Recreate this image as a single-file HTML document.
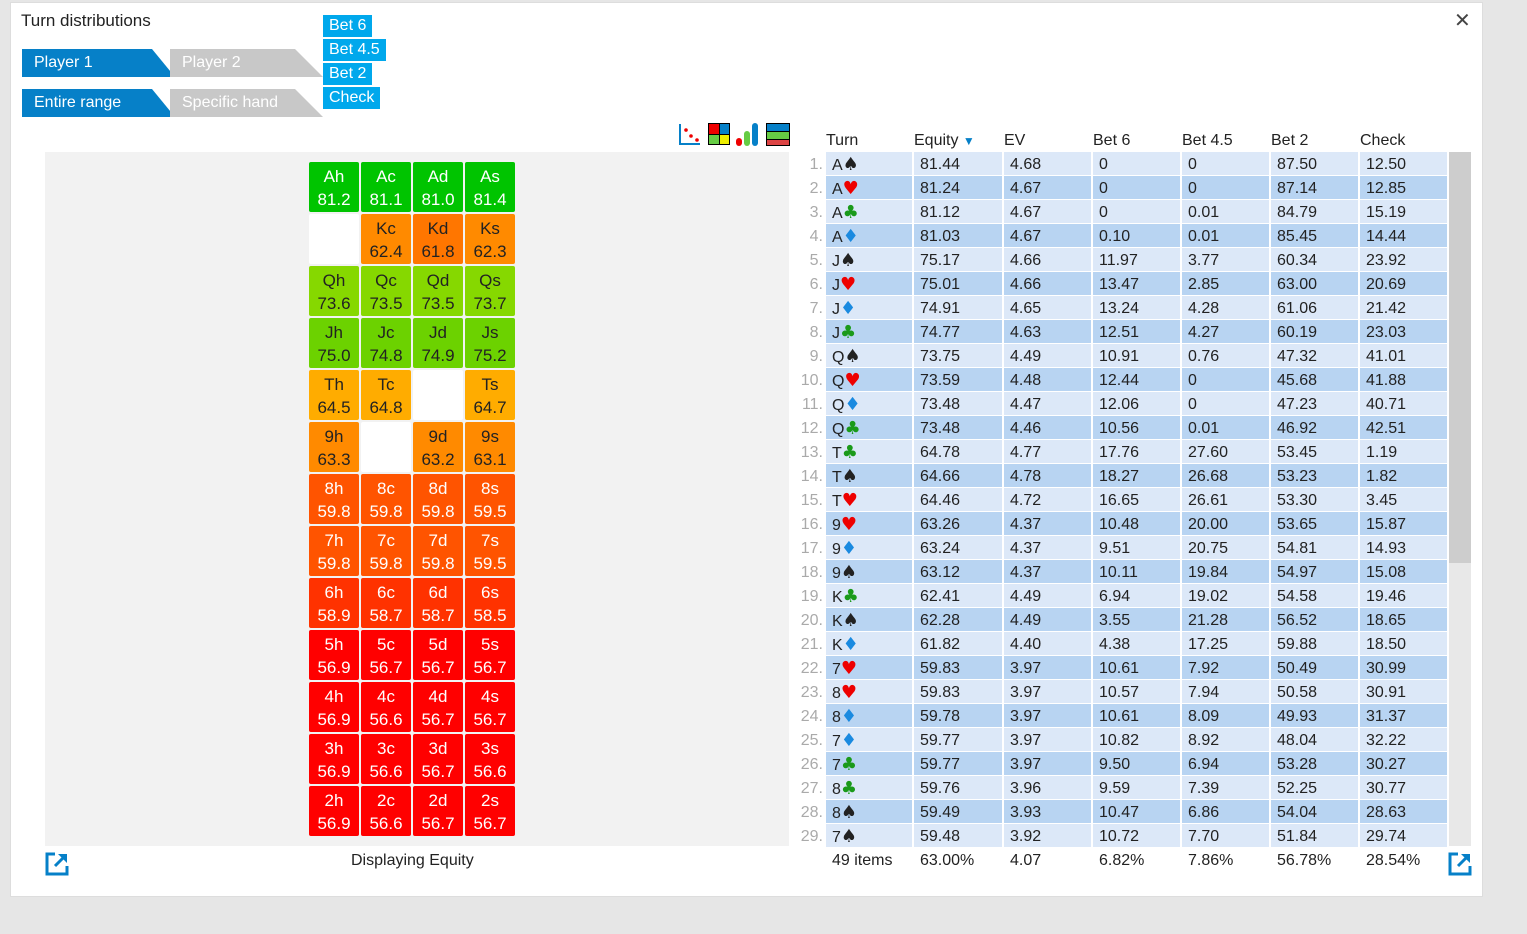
<!DOCTYPE html>
<html><head><meta charset="utf-8">
<style>
body{margin:0;width:1527px;height:934px;background:#e6e6e6;font-family:"Liberation Sans",sans-serif;position:relative;overflow:hidden}
#panel{position:absolute;left:10px;top:2px;width:1473px;height:895px;background:#fff;border:1px solid #ddd;box-sizing:border-box}
.abs{position:absolute}
.tab{position:absolute;height:28px;line-height:28px;font-size:16px;color:#fff;padding-left:12px;box-sizing:border-box}
.btn{position:absolute;background:#00a8ec;color:#fff;font-size:16px;height:22px;line-height:22px;padding:0 6px}
.cell{position:absolute;width:50px;height:50px;border-radius:2px;text-align:center;font-size:17px;line-height:23px;box-sizing:border-box;padding-top:3px}
.hdr{position:absolute;top:132px;font-size:16px;color:#222}
.tc{position:absolute;height:23px;line-height:25px;font-size:16px;color:#222;padding-left:6px;box-sizing:border-box}
.idx{position:absolute;width:30px;text-align:right;font-size:16px;color:#aaa;height:23px;line-height:25px}
.foot{position:absolute;top:852px;font-size:16px;color:#222}
</style></head><body>
<div id="panel"></div>
<div class="abs" style="left:21px;top:11px;font-size:17px;color:#222">Turn distributions</div>
<div class="abs" style="left:1454px;top:8px;font-size:20px;color:#444">✕</div>
<div class="tab" style="left:22px;top:49px;width:153px;background:#0680c8;clip-path:polygon(0 0,130px 0,153px 100%,0 100%)">Player 1</div>
<div class="tab" style="left:170px;top:49px;width:153px;background:#c8c8c8;clip-path:polygon(0 0,125px 0,153px 100%,0 100%)">Player 2</div>
<div class="tab" style="left:22px;top:89px;width:153px;background:#0680c8;clip-path:polygon(0 0,130px 0,153px 100%,0 100%)">Entire range</div>
<div class="tab" style="left:170px;top:89px;width:153px;background:#c8c8c8;clip-path:polygon(0 0,125px 0,153px 100%,0 100%)">Specific hand</div>
<div class="btn" style="left:323px;top:15px">Bet 6</div>
<div class="btn" style="left:323px;top:39px">Bet 4.5</div>
<div class="btn" style="left:323px;top:63px">Bet 2</div>
<div class="btn" style="left:323px;top:87px">Check</div>
<svg class="abs" style="left:678px;top:122px" width="114" height="26">
<path d="M2 2 V22 H22" stroke="#0680c8" stroke-width="2" fill="none"/><circle cx="8" cy="8" r="1.8" fill="#e00"/><circle cx="13" cy="14" r="1.8" fill="#e00"/><circle cx="19" cy="18" r="1.8" fill="#e00"/>
<rect x="30" y="1" width="22" height="22" fill="#000"/><rect x="31" y="2" width="10" height="10" fill="#e00"/><rect x="42" y="2" width="9" height="10" fill="#0680c8"/><rect x="31" y="13" width="10" height="9" fill="#6c4"/><rect x="42" y="13" width="9" height="9" fill="#ee0"/>
<rect x="58" y="16" width="6" height="8" rx="3" fill="#e00"/><rect x="66" y="9" width="6" height="15" rx="3" fill="#6c4"/><rect x="74" y="1" width="6" height="23" rx="3" fill="#0680c8"/>
<rect x="88" y="1" width="24" height="23" fill="#000"/><rect x="89" y="2" width="22" height="7" fill="#0680c8"/><rect x="89" y="10" width="22" height="7" fill="#6c4"/><rect x="89" y="18" width="22" height="5" fill="#d44"/>
</svg>
<div class="abs" style="left:45px;top:152px;width:744px;height:694px;background:#f2f2f2"></div>
<div id="grid"></div>
<div class="foot" style="left:351px">Displaying Equity</div>
<svg class="abs" style="left:45px;top:852px" width="24" height="24"><path d="M10 2H2V22H22V14" stroke="#0680c8" stroke-width="3" fill="none"/><path d="M10 14L21 3" stroke="#0680c8" stroke-width="3"/><path d="M13 2H22V11Z" fill="#0680c8"/></svg>
<svg class="abs" style="left:1448px;top:852px" width="24" height="24"><path d="M10 2H2V22H22V14" stroke="#0680c8" stroke-width="3" fill="none"/><path d="M10 14L21 3" stroke="#0680c8" stroke-width="3"/><path d="M13 2H22V11Z" fill="#0680c8"/></svg>
<div class="abs" style="left:1449px;top:152px;width:22px;height:694px;background:#e8e8e8"></div>
<div class="abs" style="left:1449px;top:152px;width:22px;height:411px;background:#cdcdcd"></div>
<div id="table"></div>
<script>
const ranks=["A","K","Q","J","T","9","8","7","6","5","4","3","2"];
const suits=["h","c","d","s"];
const equities=[
[81.2,81.1,81.0,81.4],[null,62.4,61.8,62.3],[73.6,73.5,73.5,73.7],[75.0,74.8,74.9,75.2],
[64.5,64.8,null,64.7],[63.3,null,63.2,63.1],[59.8,59.8,59.8,59.5],[59.8,59.8,59.8,59.5],
[58.9,58.7,58.7,58.5],[56.9,56.7,56.7,56.7],[56.9,56.6,56.7,56.7],[56.9,56.6,56.7,56.6],[56.9,56.6,56.7,56.7]];
function col(v){
 if(v>=78)return["#00c400","#fff"];
 if(v>=74.5)return["#6cd200","#222"];
 if(v>=70)return["#86d800","#222"];
 if(v>=64)return["#ffac00","#222"];
 if(v>=62.2)return["#ff8a00","#222"];
 if(v>=61)return["#ff7600","#222"];
 if(v>=59.2)return["#ff5400","#fff"];
 if(v>=58)return["#ff3200","#fff"];
 return["#ff0000","#fff"];}
const g=document.getElementById('grid');
ranks.forEach((r,i)=>suits.forEach((s,j)=>{const v=equities[i][j];
 const d=document.createElement('div');d.className='cell';
 d.style.left=(309+j*52)+'px';d.style.top=(162+i*52)+'px';
 if(v===null){d.style.background='#fff';}else{const c=col(v);d.style.background=c[0];d.style.color=c[1];d.innerHTML=r+s+'<br>'+v.toFixed(1);}
 
 
 g.appendChild(d);}));
const turnRanks=["A","A","A","A","J","J","J","J","Q","Q","Q","Q","T","T","T","9","9","9","K","K","K","7","8","8","7","7","8","8","7"];
const turnSuits=["s","h","c","d","s","h","d","c","s","h","d","c","c","s","h","h","d","s","c","s","d","h","h","d","d","c","c","s","s"];
const eq=["81.44","81.24","81.12","81.03","75.17","75.01","74.91","74.77","73.75","73.59","73.48","73.48","64.78","64.66","64.46","63.26","63.24","63.12","62.41","62.28","61.82","59.83","59.83","59.78","59.77","59.77","59.76","59.49","59.48"];
const ev=["4.68","4.67","4.67","4.67","4.66","4.66","4.65","4.63","4.49","4.48","4.47","4.46","4.77","4.78","4.72","4.37","4.37","4.37","4.49","4.49","4.40","3.97","3.97","3.97","3.97","3.97","3.96","3.93","3.92"];
const bet6=["0","0","0","0.10","11.97","13.47","13.24","12.51","10.91","12.44","12.06","10.56","17.76","18.27","16.65","10.48","9.51","10.11","6.94","3.55","4.38","10.61","10.57","10.61","10.82","9.50","9.59","10.47","10.72"];
const bet45=["0","0","0.01","0.01","3.77","2.85","4.28","4.27","0.76","0","0","0.01","27.60","26.68","26.61","20.00","20.75","19.84","19.02","21.28","17.25","7.92","7.94","8.09","8.92","6.94","7.39","6.86","7.70"];
const bet2=["87.50","87.14","84.79","85.45","60.34","63.00","61.06","60.19","47.32","45.68","47.23","46.92","53.45","53.23","53.30","53.65","54.81","54.97","54.58","56.52","59.88","50.49","50.58","49.93","48.04","53.28","52.25","54.04","51.84"];
const check=["12.50","12.85","15.19","14.44","23.92","20.69","21.42","23.03","41.01","41.88","40.71","42.51","1.19","1.82","3.45","15.87","14.93","15.08","19.46","18.65","18.50","30.99","30.91","31.37","32.22","30.27","30.77","28.63","29.74"];
const headers=["Turn","Equity","EV","Bet 6","Bet 4.5","Bet 2","Check"];
const footers=["49 items","63.00%","4.07","6.82%","7.86%","56.78%","28.54%"];
const colX=[826,914,1004,1093,1182,1271,1360];
const colW=[86,88,87,87,87,87,87];
const sym={s:["♠","#222"],h:["♥","#e00"],c:["♣","#1a9a1a"],d:["♦","#1a8ae0"]};
const t=document.getElementById('table');
headers.forEach((h,k)=>{const d=document.createElement('div');d.className='hdr';d.style.left=colX[k]+'px';
 d.innerHTML=h+(k==1?' <span style="color:#0680c8;font-size:12px">▼</span>':'');
 
 
 t.appendChild(d);
 const f=document.createElement('div');f.className='foot';f.style.left=(colX[k]+6)+'px';f.textContent=footers[k];
 
 
 t.appendChild(f);});
const cols=[null,eq,ev,bet6,bet45,bet2,check];
turnRanks.forEach((r,i)=>{const y=152+i*24;const bg=i%2?'#b8d4f2':'#dce8f8';
 const n=document.createElement('div');n.className='idx';n.style.left='793px';n.style.top=y+'px';n.textContent=(i+1)+'.';
 
 
 t.appendChild(n);
 colX.forEach((x,k)=>{const c=document.createElement('div');c.className='tc';c.style.left=x+'px';c.style.top=y+'px';c.style.width=colW[k]+'px';c.style.background=bg;
  if(k==0){const sy=sym[turnSuits[i]];c.innerHTML=r+'<span style="color:'+sy[1]+';font-size:18px;font-family:DejaVu Sans,sans-serif">'+sy[0]+'</span>';}
  else c.textContent=cols[k][i];
  
  
  t.appendChild(c);});});
</script>
</body></html>
